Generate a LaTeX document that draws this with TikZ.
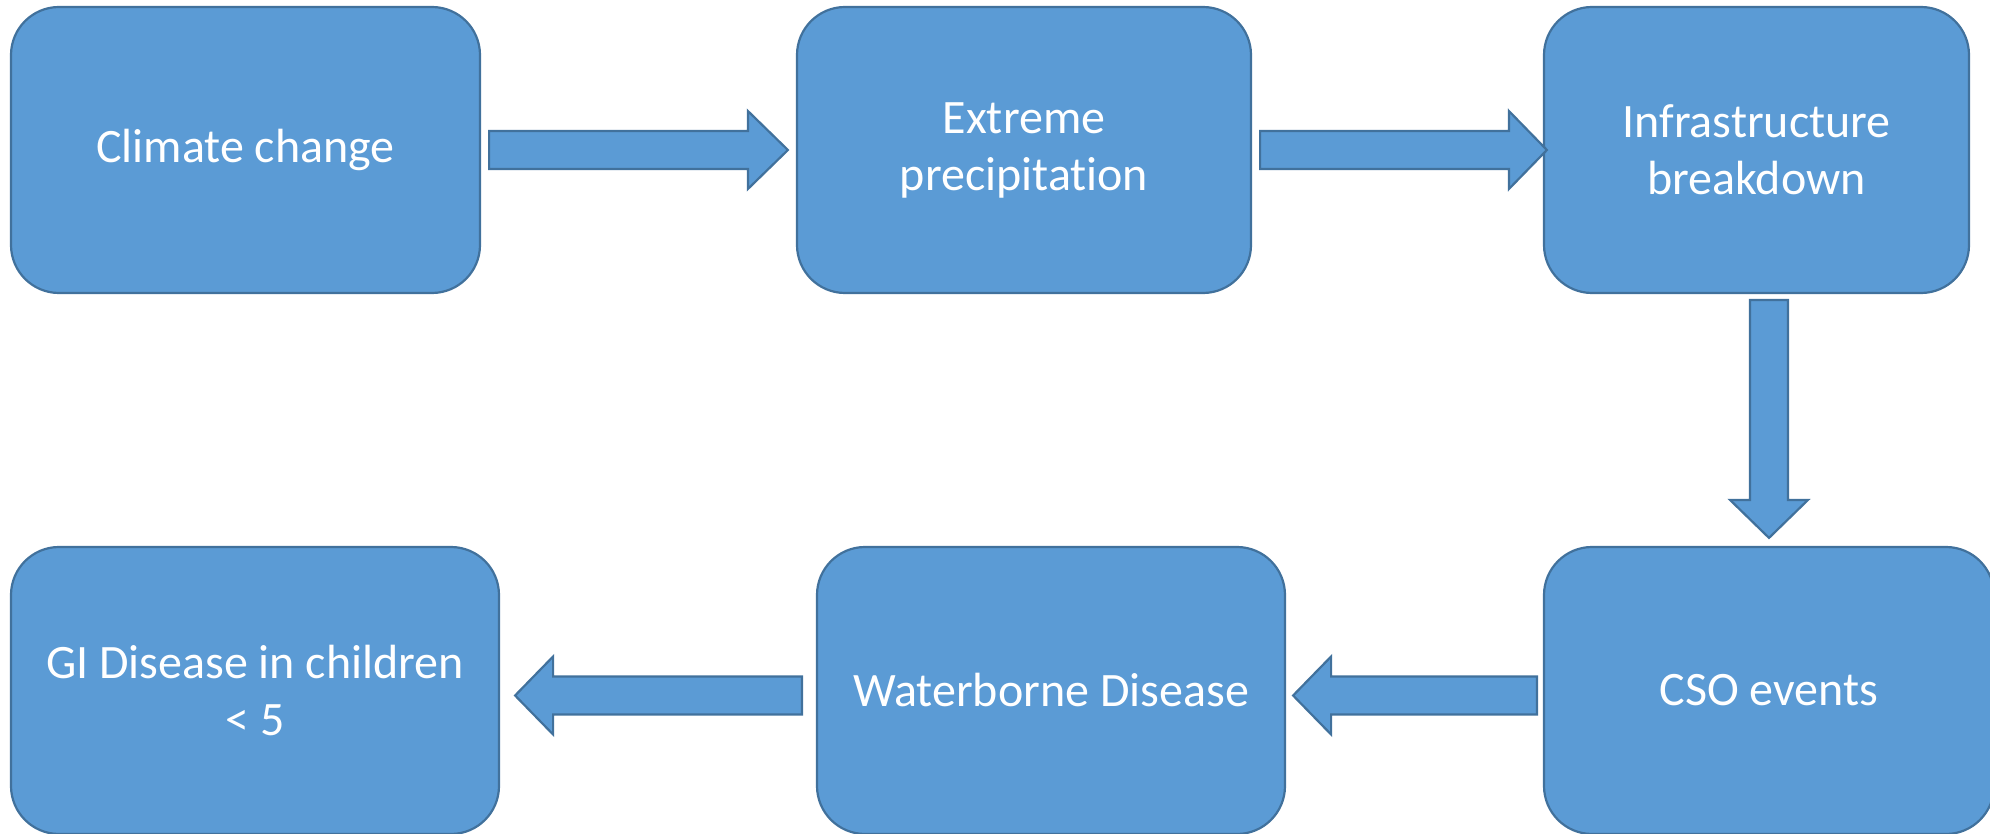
\documentclass[tikz,border=0pt]{standalone}
\usepackage{fontspec}
\setmainfont{Carlito}[RawFeature=-liga]
\usetikzlibrary{calc}
\definecolor{boxfill}{HTML}{5B9BD5}
\definecolor{boxline}{HTML}{41719C}
\begin{document}
\begin{tikzpicture}[x=1pt,y=-1pt,
  box/.style={draw=boxline, fill=boxfill, line width=2.2pt, rounded corners=48pt,
    minimum height=286pt, inner sep=0pt, text=white, align=center,
    font=\fontsize{48}{57}\selectfont},
  barrow/.style={draw=boxline, fill=boxfill, line width=2.2pt, line join=miter}]
\useasboundingbox (0,0) rectangle (1990,834);
\begin{scope}
\clip (0,0) rectangle (1990,834);
% boxes
\node[box, minimum width=469pt] (b1) at (245.5,150) {Climate change};
\node[box, minimum width=454pt] (b2) at (1024,150) {Extreme\\precipitation};
\node[box, minimum width=425pt] (b3) at (1756.5,150) {Infrastructure\\breakdown};
\node[box, minimum width=450pt, minimum height=287pt] (b4) at (1769,690.5) {CSO events};
\node[box, minimum width=468pt, minimum height=287pt] (b5) at (1051,690.5) {Waterborne Disease};
\node[box, minimum width=488pt, minimum height=287pt] (b6) at (255,690.5) {GI Disease in children\\< 5};
% arrow anchors
\coordinate (a1s) at ($(b1.east)+(8,0)$);
\coordinate (a1t) at ($(b2.west)+(-8,0)$);
\coordinate (a2s) at ($(b2.east)+(8,0)$);
\coordinate (a2t) at ($(b3.west)+(4,0)$);
\coordinate (a3s) at ($(b4.north |- b3.south)+(0,6)$);
\coordinate (a3t) at ($(b4.north)+(0,-8)$);
\coordinate (a4s) at ($(b4.west)+(-6,5)$);
\coordinate (a4t) at ($(b5.east)+(7,5)$);
\coordinate (a5s) at ($(b5.west)+(-14,5)$);
\coordinate (a5t) at ($(b6.east)+(15,5)$);
% block arrows
\draw[barrow] ($(a1s)+(0,-19)$) -- ($(a1t)+(-40,-19)$) -- ($(a1t)+(-40,-39)$) -- (a1t)
  -- ($(a1t)+(-40,39)$) -- ($(a1t)+(-40,19)$) -- ($(a1s)+(0,19)$) -- cycle;
\draw[barrow] ($(a2s)+(0,-19)$) -- ($(a2t)+(-38,-19)$) -- ($(a2t)+(-38,-39)$) -- (a2t)
  -- ($(a2t)+(-38,39)$) -- ($(a2t)+(-38,19)$) -- ($(a2s)+(0,19)$) -- cycle;
\draw[barrow] ($(a3s)+(-19,0)$) -- ($(a3t)+(-19,-38)$) -- ($(a3t)+(-39,-38)$) -- (a3t)
  -- ($(a3t)+(39,-38)$) -- ($(a3t)+(19,-38)$) -- ($(a3s)+(19,0)$) -- cycle;
\draw[barrow] ($(a4s)+(0,-19)$) -- ($(a4t)+(38,-19)$) -- ($(a4t)+(38,-39)$) -- (a4t)
  -- ($(a4t)+(38,39)$) -- ($(a4t)+(38,19)$) -- ($(a4s)+(0,19)$) -- cycle;
\draw[barrow] ($(a5s)+(0,-19)$) -- ($(a5t)+(38,-19)$) -- ($(a5t)+(38,-39)$) -- (a5t)
  -- ($(a5t)+(38,39)$) -- ($(a5t)+(38,19)$) -- ($(a5s)+(0,19)$) -- cycle;
\end{scope}
\end{tikzpicture}
\end{document}
